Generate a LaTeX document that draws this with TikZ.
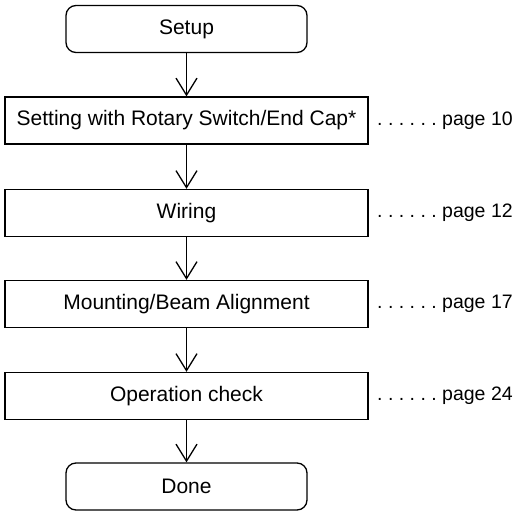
\documentclass[tikz,border=0pt]{standalone}
\usepackage{fontspec}
\setmainfont{Liberation Sans}
\frenchspacing
\usetikzlibrary{arrows.meta}
\tikzset{
	stepbox/.style={draw,line width=1.3pt,minimum width=363pt,minimum height=47pt,inner sep=0pt,font=\fontsize{21}{25}\selectfont},
	endbox/.style={stepbox,minimum width=241pt,rounded corners=10pt},
	pageref/.style={anchor=west,inner sep=0pt,font=\fontsize{19.5}{23}\selectfont},
	flow/.style={line width=1.3pt,-{Straight Barb[length=17pt,width=21pt,line width=1.3pt]}}
}
\begin{document}
	\begin{tikzpicture}[x=1pt,y=-1pt]
		\useasboundingbox (0,0) rectangle (520,511);
		\node[endbox] (setup) at (186.5,29) {Setup};
		\node[stepbox] (rotary) at (186.5,120.5) {Setting with Rotary Switch/End Cap*};
		\node[stepbox] (wiring) at (186.5,213) {Wiring};
		\node[stepbox] (mounting) at (186.5,304) {Mounting/Beam Alignment};
		\node[stepbox] (check) at (186.5,396) {Operation check};
		\node[endbox] (done) at (186.5,486.5) {Done};
		\node[pageref] (p10) at (377,120.5) {. . . . . . page 10};
		\node[pageref] (p12) at (377,213) {. . . . . . page 12};
		\node[pageref] (p17) at (377,304) {. . . . . . page 17};
		\node[pageref] (p24) at (377,396) {. . . . . . page 24};
		\draw[flow] (setup) -- (rotary);
		\draw[flow] (rotary) -- (wiring);
		\draw[flow] (wiring) -- (mounting);
		\draw[flow] (mounting) -- (check);
		\draw[flow] (check) -- (done);
	\end{tikzpicture}
\end{document}
